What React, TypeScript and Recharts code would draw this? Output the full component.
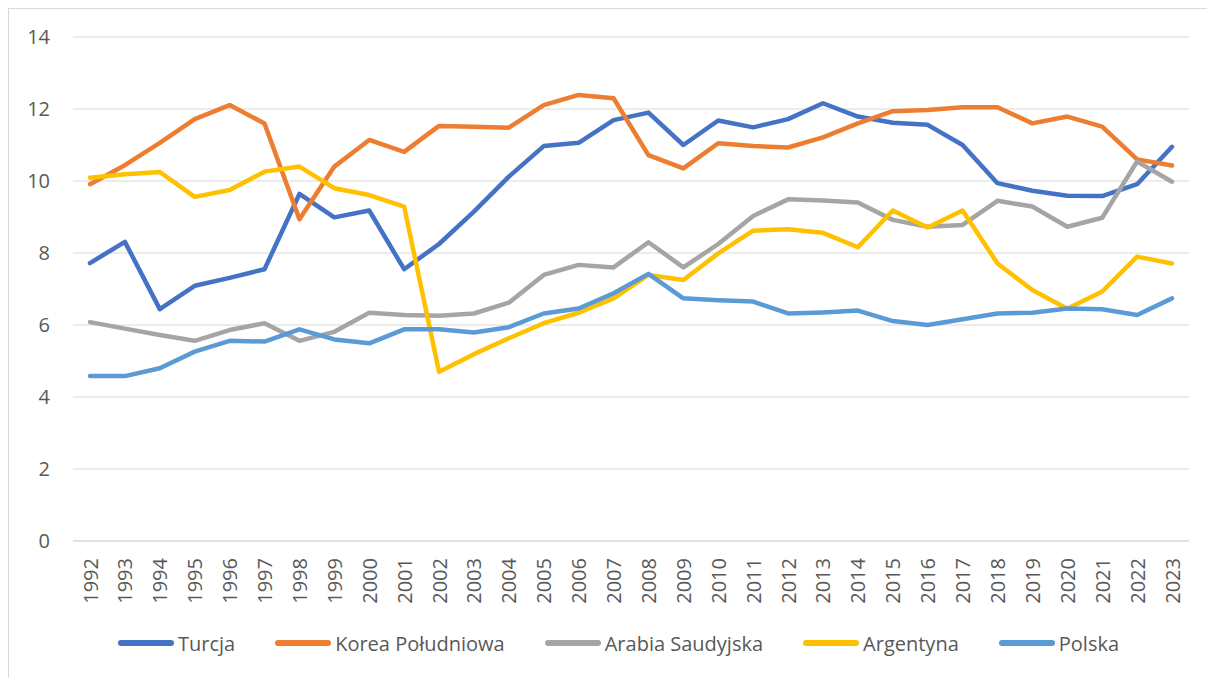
import React from 'react';
import { LineChart, Line, XAxis, YAxis, CartesianGrid, Legend } from 'recharts';

// Years on the category axis
const years = [
  '1992', '1993', '1994', '1995', '1996', '1997', '1998', '1999', '2000', '2001',
  '2002', '2003', '2004', '2005', '2006', '2007', '2008', '2009', '2010', '2011',
  '2012', '2013', '2014', '2015', '2016', '2017', '2018', '2019', '2020', '2021',
  '2022', '2023',
];

const turcja = [
  7.72, 8.31, 6.44, 7.09, 7.31, 7.55, 9.64, 8.99, 9.18, 7.55,
  8.25, 9.15, 10.12, 10.97, 11.06, 11.69, 11.9, 11.0, 11.68, 11.49,
  11.72, 12.16, 11.79, 11.62, 11.56, 11.0, 9.94, 9.73, 9.59, 9.58,
  9.91, 10.95,
];

const korea = [
  9.91, 10.44, 11.06, 11.72, 12.11, 11.6, 8.94, 10.4, 11.14, 10.81,
  11.53, 11.51, 11.48, 12.11, 12.39, 12.3, 10.72, 10.35, 11.05, 10.97,
  10.93, 11.21, 11.6, 11.94, 11.97, 12.05, 12.05, 11.6, 11.79, 11.51,
  10.6, 10.43,
];

const arabia = [
  6.08, 5.9, 5.72, 5.56, 5.86, 6.05, 5.56, 5.81, 6.34, 6.28,
  6.26, 6.32, 6.62, 7.39, 7.67, 7.6, 8.3, 7.6, 8.25, 9.03,
  9.49, 9.46, 9.4, 8.92, 8.73, 8.78, 9.45, 9.29, 8.73, 8.98,
  10.54, 9.98,
];

const argentyna = [
  10.09, 10.19, 10.25, 9.56, 9.75, 10.26, 10.4, 9.8, 9.61, 9.29,
  4.7, 5.19, 5.63, 6.05, 6.34, 6.74, 7.39, 7.25, 7.99, 8.62,
  8.66, 8.56, 8.16, 9.18, 8.71, 9.18, 7.71, 6.97, 6.45, 6.93,
  7.9, 7.71,
];

const polska = [
  4.58, 4.58, 4.8, 5.26, 5.56, 5.54, 5.88, 5.6, 5.49, 5.88,
  5.88, 5.79, 5.94, 6.32, 6.46, 6.88, 7.42, 6.74, 6.69, 6.65,
  6.32, 6.35, 6.4, 6.11, 6.0, 6.16, 6.32, 6.34, 6.46, 6.44,
  6.28, 6.74,
];

const yTicks = [0, 2, 4, 6, 8, 10, 12, 14];

const series = [
  { key: 'Turcja', color: '#4472C4', values: turcja },
  { key: 'Korea Południowa', color: '#ED7D31', values: korea },
  { key: 'Arabia Saudyjska', color: '#A5A5A5', values: arabia },
  { key: 'Argentyna', color: '#FFC000', values: argentyna },
  { key: 'Polska', color: '#5B9BD5', values: polska },
];

const data = years.map((year, i) => {
  const row: any = { year };
  series.forEach((s) => {
    row[s.key] = s.values[i];
  });
  return row;
});

const FONT = '"Open Sans", sans-serif';
const TEXT = '#595959';

const YearTick = (props: any) => {
  const { x, y, payload } = props;
  return (
    <text
      transform={`translate(${x},${y + 9}) rotate(-90)`}
      textAnchor="end"
      dominantBaseline="central"
      fill={TEXT}
      fontSize={20}
      fontFamily={FONT}
    >
      {payload.value}
    </text>
  );
};

const LegendContent = () => (
  <div
    style={{
      display: 'flex',
      justifyContent: 'center',
      alignItems: 'center',
      height: 30,
      paddingLeft: 39,
      fontFamily: FONT,
      fontSize: 20,
      color: TEXT,
    }}
  >
    {series.map((s, i) => (
      <div key={s.key} style={{ display: 'flex', alignItems: 'center', marginLeft: i === 0 ? 0 : 40 }}>
        <div style={{ width: 56, height: 6, borderRadius: 3, background: s.color, marginRight: 4 }} />
        <span>{s.key}</span>
      </div>
    ))}
  </div>
);

export default function App() {
  return (
    <div
      style={{
        position: 'relative',
        width: 1207,
        height: 670,
        borderLeft: '1px solid #d9d9d9',
        borderTop: '1px solid #d9d9d9',
        boxSizing: 'border-box',
        background: '#fff',
      }}
    >
      <LineChart width={1206} height={669} data={data} margin={{ top: 28, right: 26, left: 0, bottom: 20 }}>
        <CartesianGrid vertical={false} stroke="#d9d9d9" strokeWidth={1} />
        <XAxis
          dataKey="year"
          interval={0}
          height={87}
          padding={{ left: 17, right: 17 }}
          tickLine={false}
          axisLine={{ stroke: '#d9d9d9' }}
          tick={<YearTick />}
        />
        <YAxis
          domain={[0, 14]}
          ticks={yTicks}
          width={64}
          tickLine={false}
          axisLine={false}
          tickMargin={17}
          tick={{ fill: TEXT, fontSize: 20, fontFamily: FONT }}
        />
        <Legend verticalAlign="bottom" content={<LegendContent />} />
        {series.map((s) => (
          <Line
            key={s.key}
            type="linear"
            dataKey={s.key}
            stroke={s.color}
            strokeWidth={4.5}
            strokeLinejoin="round"
            strokeLinecap="round"
            dot={false}
            activeDot={false}
            isAnimationActive={false}
          />
        ))}
      </LineChart>
    </div>
  );
}
